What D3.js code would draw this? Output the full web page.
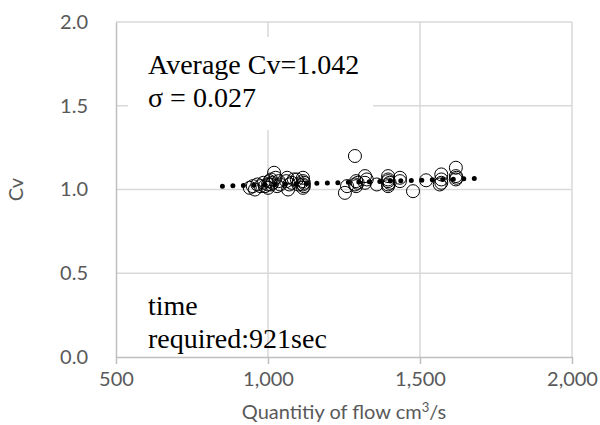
<!DOCTYPE html>
<html>
<head>
<meta charset="utf-8">
<script src="https://cdn.jsdelivr.net/npm/d3@7"></script>
<style>
  body { margin: 0; background: #fff; }
  svg { display: block; }
</style>
</head>
<body>
<script>
// measured points (flow cm3/s, Cv)
const flow = [940, 950, 957, 965, 975, 985, 990, 1000, 1005, 1010, 1015, 1020, 1025, 1030, 1035, 1040,
              1060, 1063, 1066, 1070, 1078, 1085, 1095, 1100, 1115, 1115, 1115, 1115, 1118, 1118, 1000, 1010,
              1253, 1260, 1286, 1286, 1290, 1290, 1295, 1319, 1319, 1325, 1358, 1395, 1395, 1395, 1395, 1395,
              1400, 1434, 1434, 1477, 1520, 1570, 1570, 1570, 1565, 1618, 1618, 1618, 1620];
const cv =   [1.01, 1.02, 1.00, 1.03, 1.02, 1.04, 1.02, 1.03, 1.05, 1.03, 1.04, 1.10, 1.07, 1.02, 1.05, 1.03,
              1.05, 1.07, 1.00, 1.03, 1.04, 1.06, 1.06, 1.03, 1.07, 1.05, 1.03, 1.01, 1.04, 1.02, 1.01, 1.06,
              0.98, 1.02, 1.20, 1.03, 1.05, 1.02, 1.04, 1.08, 1.04, 1.06, 1.03, 1.08, 1.06, 1.05, 1.03, 1.02,
              1.04, 1.07, 1.05, 0.99, 1.055, 1.09, 1.06, 1.04, 1.03, 1.13, 1.08, 1.06, 1.07];

// linear trend line ends
const trendX = [850, 1690];
const trendY = [1.02, 1.066];

const xTicks = [500, 1000, 1500, 2000];
const yTicks = [0, 0.5, 1.0, 1.5, 2.0];

const note1 = ['Average Cv=1.042', '\u03c3 = 0.027'];
const note2 = ['time', 'required:921sec'];

const WIDTH = 600, HEIGHT = 425;
const LEFT = 116, RIGHT = 572, TOP = 22, BOTTOM = 357;

const svg = d3.select('body').append('svg')
    .attr('width', WIDTH)
    .attr('height', HEIGHT);

const x = d3.scaleLinear().domain([500, 2000]).range([LEFT, RIGHT]);
const y = d3.scaleLinear().domain([0, 2]).range([BOTTOM, TOP]);

// gridlines
svg.append('g')
  .selectAll('line.h')
  .data(yTicks.slice(1))
  .enter().append('line')
    .attr('x1', LEFT).attr('x2', RIGHT)
    .attr('y1', d => y(d)).attr('y2', d => y(d))
    .attr('stroke', '#d9d9d9').attr('stroke-width', 1.5);

svg.append('g')
  .selectAll('line.v')
  .data(xTicks.slice(1))
  .enter().append('line')
    .attr('x1', d => x(d)).attr('x2', d => x(d))
    .attr('y1', TOP).attr('y2', BOTTOM)
    .attr('stroke', '#d9d9d9').attr('stroke-width', 1.5);

// x axis
const xAxis = svg.append('g')
    .attr('transform', `translate(0,${BOTTOM})`)
    .call(d3.axisBottom(x).tickValues(xTicks).tickFormat(d3.format(',')).tickSizeInner(7).tickSizeOuter(0).tickPadding(8));
xAxis.select('.domain').attr('stroke', '#bfbfbf').attr('stroke-width', 1.5);
xAxis.selectAll('.tick line').attr('stroke', '#bfbfbf').attr('stroke-width', 1.5);
xAxis.selectAll('.tick text')
    .attr('fill', '#595959')
    .style('font-family', 'Lato, sans-serif')
    .style('font-size', '20px');

// y axis
const yAxis = svg.append('g')
    .attr('transform', `translate(${LEFT},0)`)
    .call(d3.axisLeft(y).tickValues(yTicks).tickFormat(d3.format('.1f')).tickSize(0).tickPadding(28));
yAxis.select('.domain').attr('stroke', '#bfbfbf').attr('stroke-width', 1.5);
yAxis.selectAll('.tick text')
    .attr('fill', '#595959')
    .style('font-family', 'Lato, sans-serif')
    .style('font-size', '20px');

// axis titles
svg.append('text')
    .attr('transform', `translate(23,${(TOP + BOTTOM) / 2}) rotate(-90)`)
    .attr('text-anchor', 'middle')
    .attr('fill', '#595959')
    .style('font-family', 'Lato, sans-serif')
    .style('font-size', '20px')
    .text('Cv');

const xt = svg.append('text')
    .attr('x', (LEFT + RIGHT) / 2)
    .attr('y', 419)
    .attr('text-anchor', 'middle')
    .attr('fill', '#595959')
    .style('font-family', 'Lato, sans-serif')
    .style('font-size', '20px');
xt.append('tspan').text('Quantitiy of flow cm');
xt.append('tspan').attr('dy', -7).style('font-size', '13px').text('3');
xt.append('tspan').attr('dy', 7).text('/s');

// white text box for the stats
svg.append('rect')
    .attr('x', 128).attr('y', 37)
    .attr('width', 245).attr('height', 93)
    .attr('fill', '#fff');

svg.append('g')
  .selectAll('text')
  .data(note1)
  .enter().append('text')
    .attr('x', 148)
    .attr('y', (d, i) => 74 + i * 33)
    .style('font-family', '"Liberation Serif", "Times New Roman", serif')
    .style('font-size', '28px')
    .attr('fill', '#000')
    .text(d => d);

svg.append('g')
  .selectAll('text')
  .data(note2)
  .enter().append('text')
    .attr('x', 148)
    .attr('y', (d, i) => 315 + i * 33)
    .style('font-family', '"Liberation Serif", "Times New Roman", serif')
    .style('font-size', '28px')
    .attr('fill', '#000')
    .text(d => d);

// trend line (dotted)
svg.append('path')
    .datum(trendX.map((d, i) => [d, trendY[i]]))
    .attr('d', d3.line().x(d => x(d[0])).y(d => y(d[1])))
    .attr('fill', 'none')
    .attr('stroke', '#000')
    .attr('stroke-width', 5)
    .attr('stroke-linecap', 'round')
    .attr('stroke-dasharray', '0 10.5');

// points
svg.append('g')
  .selectAll('circle')
  .data(flow.map((d, i) => ({flow: d, cv: cv[i]})))
  .enter().append('circle')
    .attr('cx', d => x(d.flow))
    .attr('cy', d => y(d.cv))
    .attr('r', 6.5)
    .attr('fill', 'none')
    .attr('stroke', '#000')
    .attr('stroke-width', 1);
</script>
</body>
</html>
